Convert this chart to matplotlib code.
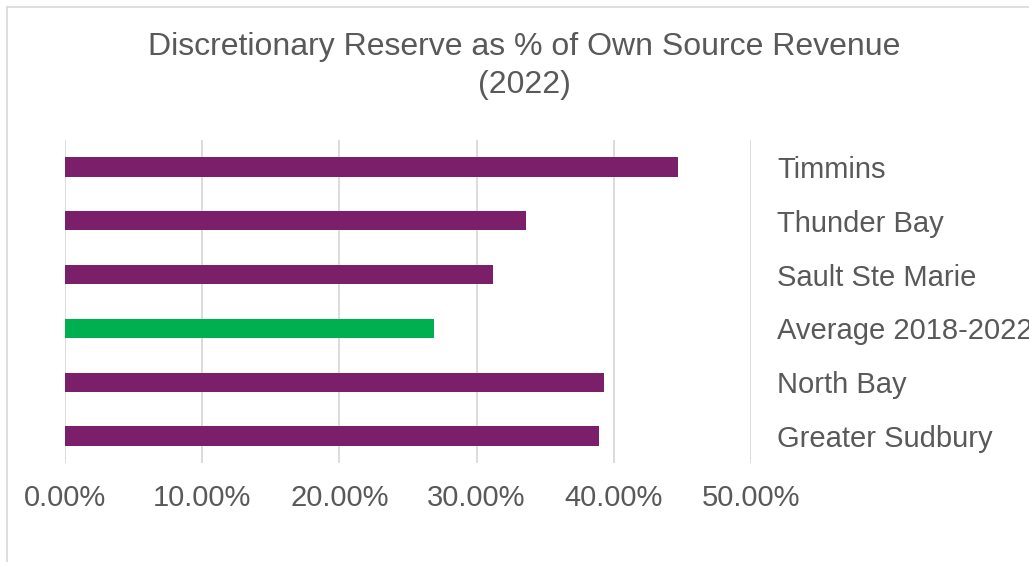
import matplotlib.pyplot as plt
from matplotlib.lines import Line2D
from matplotlib.ticker import FuncFormatter

# ---------- DATA ----------
cities = ["Greater Sudbury", "North Bay", "Average 2018-2022",
          "Sault Ste Marie", "Thunder Bay", "Timmins"]
reserve_pct = [38.9, 39.3, 26.9, 31.2, 33.6, 44.65]
bar_colors = ["#7B1F6B", "#7B1F6B", "#00B050", "#7B1F6B", "#7B1F6B", "#7B1F6B"]
x_ticks = [0, 10, 20, 30, 40, 50]

grey = "#595959"
plt.rcParams["font.family"] = ["Liberation Sans", "DejaVu Sans"]

fig = plt.figure(figsize=(10.29, 5.62), dpi=100)
ax = fig.add_axes([65 / 1029, 1 - 463 / 562, (751 - 65) / 1029, (463 - 140) / 562])

ax.barh(range(len(cities)), reserve_pct, height=0.36, color=bar_colors, zorder=3)

ax.set_xlim(0, 50)
ax.set_ylim(-0.5, len(cities) - 0.5)
ax.set_xticks(x_ticks)
ax.xaxis.set_major_formatter(FuncFormatter(lambda v, p: f"{v:.2f}%"))
ax.set_yticks(range(len(cities)))
ax.set_yticklabels(cities)
ax.yaxis.tick_right()
ax.tick_params(axis="y", length=0, pad=19, labelsize=21, labelcolor=grey)
ax.tick_params(axis="x", length=0, pad=15, labelsize=21, labelcolor=grey)

ax.grid(axis="x", color="#D9D9D9", linewidth=1.3, zorder=0)
for s in ax.spines.values():
    s.set_visible(False)

# chart title (two lines, like the original)
fig.text(524 / 1029, 1 - 66 / 562,
         "Discretionary Reserve as % of Own Source Revenue\n(2022)",
         ha="center", va="center", fontsize=23, color=grey, linespacing=1.32)

# chart border (right and bottom edges fall outside the picture)
fig.add_artist(Line2D([7 / 1029, 7 / 1029], [0, 1 - 7 / 562], transform=fig.transFigure,
                      color="#D9D9D9", linewidth=1.2))
fig.add_artist(Line2D([7 / 1029, 1], [1 - 7 / 562, 1 - 7 / 562], transform=fig.transFigure,
                      color="#D9D9D9", linewidth=1.2))

fig.savefig("out.png", dpi=100)
